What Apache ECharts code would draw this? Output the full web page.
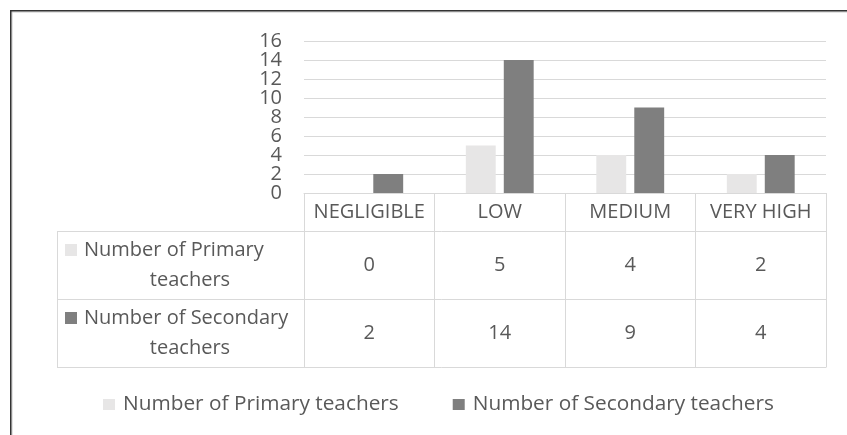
<!DOCTYPE html>
<html>
<head>
<meta charset="utf-8">
<script src="https://cdn.jsdelivr.net/npm/echarts@6/dist/echarts.min.js"></script>
<style>
  html, body { margin: 0; padding: 0; background: #ffffff; }
  #chart { width: 847px; height: 435px; }
</style>
</head>
<body>
<div id="chart"></div>
<script>
// ---- data ----
const categories = ['NEGLIGIBLE', 'LOW', 'MEDIUM', 'VERY HIGH'];
const seriesNames = ['Number of Primary teachers', 'Number of Secondary teachers'];
const primaryValues = [0, 5, 4, 2];
const secondaryValues = [2, 14, 9, 4];
const yTickValues = [0, 2, 4, 6, 8, 10, 12, 14, 16];
const yAxisMin = 0;
const yAxisMax = 16;
const yAxisStep = 2;

// ---- styling ----
const FONT = "'Open Sans', sans-serif";
const TEXT = '#595959';
const LINE = '#d9d9d9';
const COLORS = ['#e7e6e6', '#7f7f7f'];
const FS = 20;

// plot / table layout
const PLOT_LEFT = 304, PLOT_RIGHT = 826, PLOT_TOP = 41, PLOT_BOTTOM = 193;
const W = 847, H = 435;
const TABLE_LEFT = 57;
const HEADER_H = 38, ROW_H = 68;
const rowTop1 = PLOT_BOTTOM + HEADER_H;       // first data row
const rowTop2 = rowTop1 + ROW_H;              // second data row
const tableBottom = rowTop2 + ROW_H;
const valueRows = [primaryValues, secondaryValues];

const chart = echarts.init(document.getElementById('chart'), null, { renderer: 'canvas' });

// split a series name so the last word wraps to a second line
function wrapName(name) {
  const words = name.split(' ');
  const last = words.pop();
  return [words.join(' '), last];
}

// row headers of the data table: colour key + wrapped series name
const rowLabelGraphics = [];
seriesNames.forEach((name, i) => {
  const [l1, l2] = wrapName(name);
  const cy = (i === 0 ? rowTop1 : rowTop2) + ROW_H / 2;
  rowLabelGraphics.push({
    type: 'text',
    x: 65,
    y: cy - 15,
    style: {
      text: '{sq|}{gap|}{t|' + l1 + '}',
      align: 'left',
      verticalAlign: 'middle',
      rich: {
        sq: { width: 12, height: 12, backgroundColor: COLORS[i] },
        gap: { width: 7, height: 12 },
        t: { fontFamily: FONT, fontSize: FS, fill: TEXT, lineHeight: 30 }
      }
    }
  });
  rowLabelGraphics.push({
    type: 'text',
    x: 190,
    y: cy + 15,
    style: {
      text: l2,
      align: 'center',
      verticalAlign: 'middle',
      fontFamily: FONT,
      fontSize: FS,
      fill: TEXT
    }
  });
});

function hLine(y, x1, x2, color, w) {
  return { type: 'line', shape: { x1: x1, y1: y, x2: x2, y2: y }, style: { stroke: color, lineWidth: w || 1 }, silent: true };
}
function vLine(x, y1, y2, color, w) {
  return { type: 'line', shape: { x1: x, y1: y1, x2: x, y2: y2 }, style: { stroke: color, lineWidth: w || 1 }, silent: true };
}

const tableLines = [
  hLine(rowTop1 + 0.5, TABLE_LEFT, PLOT_RIGHT + 0.5, LINE),
  hLine(rowTop2 + 0.5, TABLE_LEFT, PLOT_RIGHT + 0.5, LINE),
  hLine(tableBottom + 0.5, TABLE_LEFT, PLOT_RIGHT + 0.5, LINE),
  vLine(TABLE_LEFT + 0.5, rowTop1, tableBottom + 1, LINE)
];

// outer frame of the chart area (top and left edges)
const frame = [
  hLine(12, 11, W, '#c8c8c8'),
  vLine(12, 11, H, '#c8c8c8'),
  hLine(10.75, 10, W, '#333333', 1.5),
  vLine(10.75, 10, H, '#333333', 1.5)
];

const valueAxes = valueRows.map((vals, i) => ({
  type: 'category',
  data: categories,
  gridIndex: 0,
  position: 'bottom',
  offset: (i === 0 ? rowTop1 : rowTop2) + ROW_H / 2 - PLOT_BOTTOM,
  axisLine: { show: false },
  axisTick: { show: false },
  splitLine: { show: false },
  axisLabel: {
    interval: 0,
    margin: 0,
    verticalAlign: 'middle',
    fontFamily: FONT,
    fontSize: FS,
    color: TEXT,
    formatter: (v, idx) => String(vals[idx])
  }
}));

chart.setOption({
  backgroundColor: '#ffffff',
  animation: false,
  textStyle: { fontFamily: FONT },
  grid: {
    left: PLOT_LEFT,
    right: W - PLOT_RIGHT,
    top: PLOT_TOP,
    bottom: H - PLOT_BOTTOM,
    containLabel: false
  },
  legend: {
    data: seriesNames,
    left: 98,
    top: 389,
    icon: 'rect',
    itemWidth: 12,
    itemHeight: 11,
    itemGap: 54,
    textStyle: { fontFamily: FONT, fontSize: 20.8, color: TEXT, padding: [0, 0, 0, 3] }
  },
  xAxis: [
    {
      type: 'category',
      data: categories,
      gridIndex: 0,
      position: 'bottom',
      axisLine: { show: true, lineStyle: { color: LINE, width: 1 } },
      axisTick: { show: true, length: tableBottom - PLOT_BOTTOM, lineStyle: { color: LINE } },
      axisLabel: {
        interval: 0,
        margin: 19,
        verticalAlign: 'middle',
        fontFamily: FONT,
        fontSize: FS,
        color: TEXT
      },
      splitLine: { show: false }
    }
  ].concat(valueAxes),
  yAxis: {
    type: 'value',
    min: yAxisMin,
    max: yAxisMax,
    interval: yAxisStep,
    axisLine: { show: false },
    axisTick: { show: false },
    // tick labels are tightly packed, so they are placed below from the axis scale
    axisLabel: { show: false },
    splitLine: { lineStyle: { color: LINE, width: 1 } }
  },
  series: [
    {
      name: seriesNames[0],
      type: 'bar',
      xAxisIndex: 0,
      data: primaryValues,
      itemStyle: { color: COLORS[0] },
      barGap: '27%',
      barCategoryGap: '48%'
    },
    {
      name: seriesNames[1],
      type: 'bar',
      xAxisIndex: 0,
      data: secondaryValues,
      itemStyle: { color: COLORS[1] },
      barGap: '27%',
      barCategoryGap: '48%'
    }
  ]
});

// y tick labels positioned through the value axis
const yLabelGraphics = yTickValues.map(v => ({
  type: 'text',
  x: PLOT_LEFT - 22,
  y: chart.convertToPixel({ yAxisIndex: 0 }, v),
  style: {
    text: String(v),
    align: 'right',
    verticalAlign: 'middle',
    fontFamily: FONT,
    fontSize: FS,
    fill: TEXT
  },
  silent: true
}));

chart.setOption({ graphic: frame.concat(tableLines, rowLabelGraphics, yLabelGraphics) });
</script>
</body>
</html>
